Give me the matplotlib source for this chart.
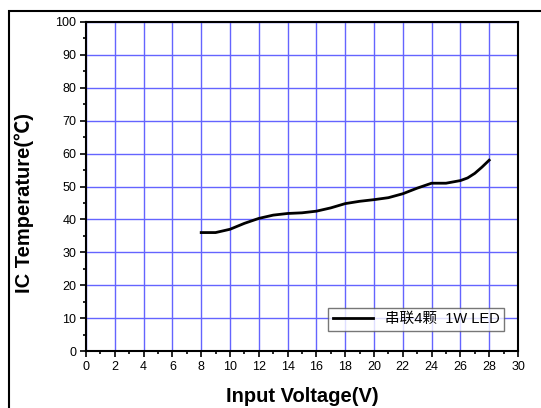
import numpy as np
import matplotlib.pyplot as plt
from matplotlib.patches import Rectangle

plt.rcParams['font.family'] = ['Liberation Sans', 'Noto Sans CJK SC']

voltage = [8, 9, 10, 11, 12, 13, 14, 15, 16, 17, 18, 19, 20, 21, 22, 23, 24, 25, 26, 26.5, 27, 27.5, 28]
temp = [36, 36, 37, 38.8, 40.3, 41.3, 41.8, 42, 42.5, 43.5, 44.8, 45.5, 46, 46.6, 47.8, 49.5, 51, 51, 51.8, 52.6, 54, 55.9, 58]
label = '串联4颗  1W LED'

fig = plt.figure(figsize=(5.41, 4.08), dpi=100)
W, H = 541, 408
ax = fig.add_axes([86 / W, 1 - 351 / H, (518 - 86) / W, (351 - 22) / H])

# outer frame, cut by the image edge on right and bottom
fig.patches.append(Rectangle((9 / W, -0.1), 1.2, 1 - 11 / H + 0.1, transform=fig.transFigure,
                             fill=False, ec='black', lw=1.5))

ax.plot(voltage, temp, color='black', lw=2.0, label=label)

ax.set_xlim(0, 30)
ax.set_ylim(0, 100)
ax.set_xticks(np.arange(0, 31, 2))
ax.set_xticks(np.arange(0, 31, 1), minor=True)
ax.set_yticks(np.arange(0, 101, 10))
ax.set_yticks(np.arange(0, 101, 5), minor=True)
ax.grid(True, which='major', color='#6464ff', lw=1.0)
ax.set_axisbelow(True)
ax.tick_params(which='major', direction='out', length=4, width=1.2, labelsize=9, pad=3)
ax.tick_params(which='minor', direction='out', length=2.5, width=1.2)
for s in ax.spines.values():
    s.set_linewidth(1.5)

ax.set_xlabel('Input Voltage(V)', fontsize=14.5, fontweight='bold', labelpad=10)
ax.set_ylabel('IC Temperature(℃)', fontsize=14.5, fontweight='bold')
ax.yaxis.set_label_coords(-0.12, 0.45)

leg = ax.legend(loc='lower right', bbox_to_anchor=(0.985, 0.04), fontsize=10.5, frameon=True,
                fancybox=False, edgecolor='#555555', handlelength=2.8, borderpad=0.3)
leg.get_frame().set_linewidth(1.0)

fig.savefig('out.png', dpi=100)
